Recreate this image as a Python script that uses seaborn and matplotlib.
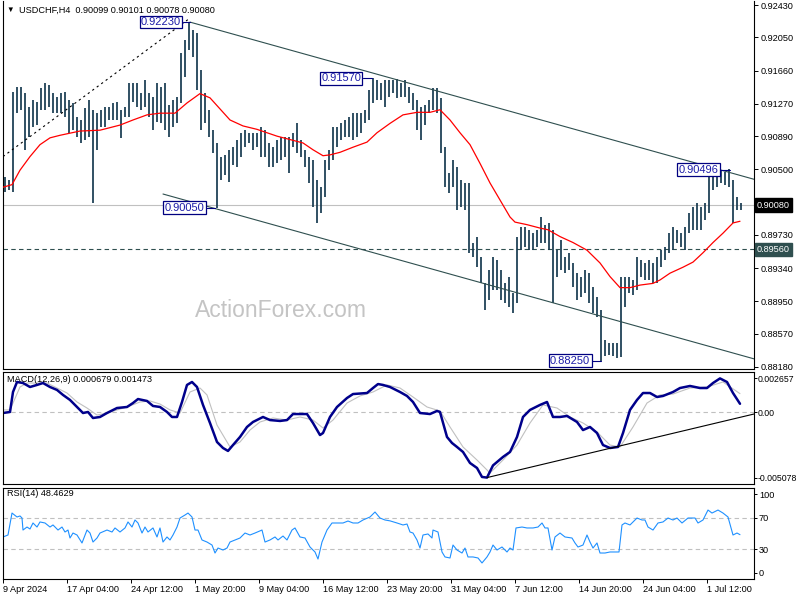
import matplotlib
matplotlib.use("Agg")
import numpy as np
import matplotlib.pyplot as plt
import seaborn as sns

# ---- price bars (USDCHF H4, two real bars per drawn bar) ----
highs = [
    0.9041, 0.9038, 0.9141, 0.9147, 0.9147, 0.9140, 0.9123, 0.9132, 0.9129, 0.9146,
    0.9152, 0.9149, 0.9140, 0.9135, 0.9140, 0.9141, 0.9132, 0.9128, 0.9112, 0.9108,
    0.9122, 0.9132, 0.9120, 0.9116, 0.9120, 0.9123, 0.9123, 0.9128, 0.9129, 0.9120,
    0.9123, 0.9152, 0.9152, 0.9152, 0.9140, 0.9155, 0.9140, 0.9135, 0.9152, 0.9147,
    0.9152, 0.9126, 0.9132, 0.9135, 0.9187, 0.9202, 0.9223, 0.9214, 0.9210, 0.9167,
    0.9140, 0.9120, 0.9096, 0.9081, 0.9065, 0.9067, 0.9073, 0.9076, 0.9085, 0.9093,
    0.9096, 0.9093, 0.9093, 0.9093, 0.9100, 0.9096, 0.9081, 0.9076, 0.9085, 0.9088,
    0.9088, 0.9088, 0.9093, 0.9104, 0.9085, 0.9073, 0.9065, 0.9061, 0.9038, 0.9029,
    0.9061, 0.9073, 0.9100, 0.9100, 0.9104, 0.9108, 0.9112, 0.9116, 0.9116, 0.9116,
    0.9120, 0.9143, 0.9157, 0.9155, 0.9152, 0.9155, 0.9155, 0.9155, 0.9156, 0.9152,
    0.9155, 0.9147, 0.9140, 0.9132, 0.9123, 0.9126, 0.9132, 0.9146, 0.9146, 0.9134,
    0.9076, 0.9046, 0.9061, 0.9053, 0.9038, 0.9034, 0.9034, 0.8964, 0.8971, 0.8947,
    0.8916, 0.8932, 0.8947, 0.8944, 0.8932, 0.8916, 0.8924, 0.8905, 0.8971, 0.8982,
    0.8982, 0.8979, 0.8975, 0.8979, 0.8994, 0.8985, 0.8987, 0.8979, 0.8955, 0.8967,
    0.8947, 0.8952, 0.8940, 0.8928, 0.8924, 0.8932, 0.8928, 0.8912, 0.8900, 0.8885,
    0.8850, 0.8846, 0.8846, 0.8846, 0.8924, 0.8924, 0.8924, 0.8920, 0.8947, 0.8944,
    0.8940, 0.8944, 0.8940, 0.8947, 0.8955, 0.8959, 0.8975, 0.8982, 0.8979, 0.8975,
    0.8982, 0.8999, 0.9006, 0.9010, 0.9006, 0.9010, 0.9046, 0.9046, 0.9049, 0.9049,
    0.9047, 0.9050, 0.9038, 0.9018, 0.9010]
lows = [
    0.9023, 0.9026, 0.9023, 0.9116, 0.9120, 0.9073, 0.9088, 0.9100, 0.9102, 0.9120,
    0.9120, 0.9123, 0.9116, 0.9116, 0.9116, 0.9112, 0.9093, 0.9096, 0.9088, 0.9081,
    0.9085, 0.9088, 0.9010, 0.9073, 0.9100, 0.9100, 0.9108, 0.9108, 0.9108, 0.9087,
    0.9112, 0.9112, 0.9129, 0.9123, 0.9120, 0.9123, 0.9112, 0.9096, 0.9106, 0.9104,
    0.9096, 0.9088, 0.9100, 0.9104, 0.9128, 0.9159, 0.9190, 0.9182, 0.9143, 0.9096,
    0.9104, 0.9088, 0.9069, 0.9005, 0.9038, 0.9043, 0.9035, 0.9055, 0.9053, 0.9065,
    0.9076, 0.9081, 0.9073, 0.9076, 0.9065, 0.9065, 0.9053, 0.9053, 0.9058, 0.9061,
    0.9065, 0.9046, 0.9076, 0.9069, 0.9065, 0.9053, 0.9034, 0.9006, 0.8987, 0.8999,
    0.9018, 0.9049, 0.9061, 0.9076, 0.9085, 0.9088, 0.9088, 0.9085, 0.9088, 0.9093,
    0.9104, 0.9108, 0.9128, 0.9132, 0.9132, 0.9123, 0.9135, 0.9140, 0.9134, 0.9135,
    0.9135, 0.9128, 0.9120, 0.9096, 0.9085, 0.9102, 0.9116, 0.9120, 0.9116, 0.9069,
    0.9029, 0.9022, 0.9029, 0.9002, 0.9006, 0.9002, 0.8952, 0.8947, 0.8935, 0.8916,
    0.8885, 0.8897, 0.8908, 0.8908, 0.8897, 0.8893, 0.8888, 0.8881, 0.8893, 0.8955,
    0.8959, 0.8955, 0.8955, 0.8959, 0.8964, 0.8964, 0.8955, 0.8893, 0.8924, 0.8932,
    0.8928, 0.8932, 0.8912, 0.8897, 0.8900, 0.8905, 0.8893, 0.8881, 0.8877, 0.8825,
    0.8831, 0.8832, 0.8831, 0.8828, 0.8830, 0.8888, 0.8905, 0.8902, 0.8908, 0.8924,
    0.8920, 0.8920, 0.8916, 0.8916, 0.8935, 0.8944, 0.8952, 0.8955, 0.8964, 0.8959,
    0.8955, 0.8975, 0.8979, 0.8979, 0.8979, 0.8990, 0.8999, 0.9026, 0.9029, 0.9034,
    0.9032, 0.9029, 0.8987, 0.9002, 0.9002]

# ---- moving average (red) ----
ma_x = [-0.5, 1.75, 3.75, 6.25, 8.75, 11.25, 13.75, 18.75, 23.75, 28.75, 32, 35.5, 38.75,
        42.5, 45.5, 48.75, 51.25, 53.75, 56.25, 59.5, 63, 68, 71.25, 74.5, 77, 79.5, 81.25,
        83.75, 87, 90.5, 93, 96.25, 99.5, 103, 106.25, 108.75, 111.25, 113.75, 116.25,
        118.75, 121.25, 123.75, 126.25, 127.5, 130.5, 133.75, 135.75, 138.75, 142, 145.5,
        148.75, 151.25, 153.75, 156.25, 158.75, 162, 163.75, 166.25, 169.5, 172, 174.5,
        177, 179.5, 182, 183.75]
ma_vals = [0.9029, 0.9032, 0.9049, 0.9065, 0.9079, 0.9087, 0.9090, 0.9095, 0.9096, 0.9102,
           0.9108, 0.9114, 0.9116, 0.9116, 0.9128, 0.9139, 0.9134, 0.9121, 0.9108, 0.9101,
           0.9097, 0.9089, 0.9085, 0.9081, 0.9073, 0.9066, 0.9067, 0.9070, 0.9076, 0.9082,
           0.9093, 0.9104, 0.9114, 0.9117, 0.9117, 0.9120, 0.9108, 0.9093, 0.9079, 0.9057,
           0.9034, 0.9014, 0.8994, 0.8988, 0.8985, 0.8981, 0.8979, 0.8971, 0.8964, 0.8955,
           0.8940, 0.8924, 0.8911, 0.8911, 0.8914, 0.8916, 0.8920, 0.8928, 0.8935, 0.8941,
           0.8952, 0.8964, 0.8975, 0.8987, 0.8989]

# ---- MACD(12,26,9) ----
macd_x = [-0.5, 1.25, 2, 3, 4.5, 6.25, 8, 9.5, 11.25, 13, 14.5, 16.25, 18, 19.5, 20.75, 22,
          23.75, 25.5, 28, 30.5, 32, 33.25, 35.5, 37, 38.75, 40.5, 41.75, 43, 44.25, 45.5,
          46.75, 48, 49.5, 51.25, 53, 54.5, 55.75, 57, 58.75, 60.5, 62, 64.5, 66.25, 68.75,
          70.5, 72, 73.75, 75.5, 77, 78.75, 79.5, 81.25, 83, 85.5, 87, 90.5, 92, 93.25, 94.5,
          96.25, 98.75, 100.5, 102, 103.75, 106.25, 108, 108.75, 110.5, 111.75, 113, 114.5,
          116.25, 118, 119.25, 120.5, 122, 124.5, 126.25, 128, 129.5, 131.25, 133.75, 135.5,
          137, 138.75, 140.5, 143, 144.5, 146.25, 148, 149.5, 151.25, 153.25, 154.5, 156.25,
          158, 159.5, 161.25, 163, 164.5, 167, 168.75, 171.25, 173.75, 175.5, 177, 178.75,
          180.5, 182, 183.75]
macd_vals = [-0.00004, 0.00004, 0.0016, 0.00238, 0.0023, 0.00199, 0.00215, 0.0023, 0.00199, 0.00176,
             0.00137, 0.00098, 0.00043, -0.00004, 0.00004, -0.00043, -0.00035, -0.00004, 0.00035, 0.00043,
             0.00074, 0.00105, 0.0009, 0.00051, 0.00043, 0.00004, -0.00035, -0.00035, 0.00082, 0.00215,
             0.00238, 0.00199, 0.00059, -0.00082, -0.0023, -0.00277, -0.003, -0.00254, -0.00191, -0.00113,
             -0.00074, -0.00035, -0.00059, -0.00066, -0.00059, -0.00012, -0.00012, -0.00012, -0.00082, -0.00176,
             -0.0016, -0.00035, 0.00043, 0.00113, 0.00144, 0.00152, 0.00191, 0.00222, 0.00215, 0.00199,
             0.0016, 0.00129, 0.00082, -0.00004, -0.00012, 0.00012, 0.00004, -0.00191, -0.00238, -0.00269,
             -0.00308, -0.00394, -0.00433, -0.00503, -0.00508, -0.00413, -0.00347, -0.00308, -0.00191, -0.00035,
             0.0002, 0.00059, 0.00082, -0.00035, -0.00035, -0.00027, -0.00074, -0.00137, -0.00113, -0.0016,
             -0.00254, -0.00277, -0.00269, -0.0016, 0.0002, 0.00098, 0.00152, 0.00152, 0.00121, 0.00129,
             0.0016, 0.00191, 0.00207, 0.00191, 0.00191, 0.0023, 0.00266, 0.00238, 0.00152, 0.00068]
sig_x = [-0.5, 1.25, 3.75, 5.5, 8, 10.5, 13, 15.5, 18, 20.5, 23, 25.5, 28, 30.5, 33.75, 36.25,
         38.75, 41.25, 43.75, 46.25, 48.75, 50.5, 53, 56.25, 58.75, 61.25, 63.75, 67, 70.5,
         73.75, 77, 79.5, 82, 85.5, 88.75, 92, 95.5, 98.75, 102, 105.5, 108.75, 111.25, 114.5,
         118, 121.25, 124.5, 128, 131.25, 134.5, 138, 141.25, 144.5, 148, 151.25, 153.75, 157,
         160.5, 163.75, 167, 171.25, 175.5, 179.5, 183.75]
sig_vals = [0.0002, 0.0002, 0.00199, 0.0023, 0.0023, 0.0023, 0.00191, 0.00152, 0.00082, 0.00035,
            -0.0002, -0.00004, 0.0002, 0.00043, 0.00082, 0.0009, 0.00066, 0.0002, -0.00004, 0.0016,
            0.00191, 0.00137, -0.00098, -0.00269, -0.0023, -0.00137, -0.00074, -0.00043, -0.00059, -0.00035,
            -0.00059, -0.00121, -0.00059, 0.00074, 0.00129, 0.0016, 0.00215, 0.00191, 0.00121, 0.00043,
            0.00012, -0.00113, -0.00269, -0.00371, -0.00472, -0.00371, -0.00254, -0.00082, 0.00059, 0.00035,
            -0.00035, -0.00082, -0.00152, -0.00254, -0.00269, -0.00113, 0.00074, 0.00137, 0.00144, 0.00191,
            0.00199, 0.00238, 0.00147]

# ---- RSI(14) ----
rsi_x = [-0.5, 0.75, 1.75, 3, 3.75, 4.25, 4.5, 5.5, 6.25, 7, 8, 8.75, 10, 11.25, 12, 13.25,
         14.25, 15, 15.75, 16.25, 17, 18, 19.25, 20.5, 21.25, 22, 23, 23.75, 25.5, 26.75, 27.5,
         28.75, 30, 30.75, 31.75, 32.5, 33.25, 34.25, 35, 35.75, 37, 38, 38.75, 39.5, 40.5,
         41.25, 42, 43, 43.75, 45, 45.75, 46.75, 47.5, 48.25, 49.25, 50.5, 51.75, 52.5, 53.25,
         54.5, 55.5, 56.25, 57.5, 58.75, 60, 61.25, 62.5, 64.25, 65, 66.25, 67.5, 68.25, 69.5,
         70.5, 71.75, 72.5, 73.75, 75, 76.25, 77.5, 78.25, 79.25, 80.5, 81.75, 83, 84.5, 85.75,
         87, 88.25, 89.5, 91.25, 92.5, 93.75, 95, 96.25, 98, 99.5, 100.5, 101.25, 102, 103,
         103.75, 104.5, 105.75, 106.75, 107, 108.25, 109.25, 110, 111.25, 112, 113, 114.25, 115,
         115.75, 117, 118.25, 119.25, 120.5, 121.25, 122, 123, 124.25, 125.5, 126.25, 127,
         127.75, 129.25, 130.5, 132, 133.25, 134.25, 135, 135.75, 136.75, 137.5, 138.75, 140,
         141.75, 142.5, 143.25, 144.5, 145.5, 146.25, 147, 148, 148.75, 150, 151.25, 152.5,
         153.5, 154.25, 155, 156.25, 158, 159.25, 160, 160.75, 162, 163.25, 164.5, 165.75, 167,
         168, 169.25, 170.75, 172.5, 173.25, 174.5, 175.75, 176.75, 178.25, 179.5, 180.75, 182,
         183, 183.75]
rsi_vals = [45.6, 48.1, 75.9, 70.9, 72.2, 69.6, 54.4, 58.2, 55.7, 63.3,
            58.2, 64.6, 63.3, 58.2, 60.8, 54.4, 58.2, 51.9, 54.4, 44.3,
            50.6, 48.1, 38.0, 54.4, 50.6, 39.2, 44.3, 50.6, 54.4, 51.9,
            57.0, 51.9, 57.0, 64.6, 58.2, 67.1, 63.3, 50.6, 58.2, 51.9,
            57.0, 45.6, 57.0, 39.2, 45.6, 41.8, 48.1, 58.2, 69.6, 73.4,
            75.9, 70.9, 54.4, 54.4, 41.8, 39.2, 35.4, 25.3, 31.6, 29.1,
            31.6, 39.2, 41.8, 44.3, 50.6, 48.1, 50.6, 54.4, 39.2, 41.8,
            45.6, 41.8, 46.8, 41.8, 54.4, 57.0, 45.6, 44.3, 32.9, 26.6,
            17.7, 39.2, 54.4, 63.3, 63.3, 63.3, 65.8, 63.3, 63.3, 67.1,
            70.9, 77.2, 69.6, 67.1, 66.0, 63.3, 60.8, 62.0, 51.9, 50.6,
            41.8, 31.6, 48.1, 49.4, 44.3, 54.4, 51.9, 26.6, 20.3, 19.0,
            35.4, 29.1, 25.3, 31.6, 20.3, 20.3, 19.0, 12.7, 20.3, 26.6,
            35.4, 29.1, 32.9, 26.6, 31.6, 29.1, 57.0, 58.2, 57.0, 57.0,
            58.2, 63.3, 57.0, 57.0, 29.1, 45.6, 50.6, 45.6, 44.3, 38.0,
            32.9, 35.4, 48.1, 39.2, 31.6, 38.0, 25.3, 25.3, 26.6, 26.6,
            26.6, 60.8, 63.3, 60.8, 69.6, 67.1, 67.1, 58.2, 54.4, 63.3,
            64.6, 69.6, 67.1, 69.6, 63.3, 69.6, 69.6, 63.3, 67.1, 79.7,
            75.9, 79.7, 75.9, 70.9, 48.1, 50.6, 48.5]

# ---- drawn objects: trend lines and levels ----
upper_x, upper_y = [46.25, 187.5], [0.9223, 0.9038]
lower_x, lower_y = [39.5, 187.5], [0.9021, 0.8827]
dotted_x, dotted_y = [-0.5, 45.75], [0.9065, 0.9226]
macd_tl_x, macd_tl_y = [120.5, 187.5], [-0.00508, -0.0001]
support_level = 0.8956
last_price = 0.9008

# swing labels: (text, price, box right edge, bar reached)
swings = [("0.92230", 0.92230, 44.0, 46.3),
          ("0.91570", 0.91570, 89.0, 91.75),
          ("0.90050", 0.90050, 49.8, 52.5),
          ("0.90496", 0.90496, 178.3, 181.25),
          ("0.88250", 0.88250, 146.3, 149.0)]

price_ticks = [0.92430, 0.92050, 0.91660, 0.91270, 0.90890, 0.90500,
               0.89730, 0.89340, 0.88950, 0.88570, 0.88180]
macd_ticks = [-0.005078, 0.0, 0.002657]
macd_tick_labels = ["-0.005078", "0.00", "0.002657"]
rsi_ticks = [0, 30, 70, 100]
date_pos = [-0.5, 15.5, 31.5, 47.5, 63.5, 79.5, 95.5, 111.5, 127.5, 143.5, 159.5, 175.5]
date_labels = ["9 Apr 2024", "17 Apr 04:00", "24 Apr 12:00", "1 May 20:00", "9 May 04:00",
               "16 May 12:00", "23 May 20:00", "31 May 04:00", "7 Jun 12:00",
               "14 Jun 20:00", "24 Jun 04:00", "1 Jul 12:00"]

# ---- style ----
sns.set_style("white")
plt.rcParams['font.family'] = ['Liberation Sans', 'DejaVu Sans']
FS = 6.6
BAR_C = "#173a50"
LINE_C = "#2f4f4f"
NAVY = "#000080"

fig = plt.figure(figsize=(8, 6), dpi=100)
L, W = 3 / 800, 751 / 800
ax_p = fig.add_axes([L, 1 - 369 / 600, W, 368 / 600])
ax_m = fig.add_axes([L, 1 - 484 / 600, W, 112 / 600])
ax_r = fig.add_axes([L, 1 - 579 / 600, W, 91 / 600])

for ax in (ax_p, ax_m, ax_r):
    ax.set_xlim(-0.5, 187.25)
    for s in ax.spines.values():
        s.set_color("black")
        s.set_linewidth(0.8)
    ax.yaxis.tick_right()
    ax.tick_params(axis="y", which="both", left=False, right=True, labelleft=False,
                   labelright=True, length=3, width=0.7, pad=2, labelsize=FS, colors="black")
ax_m.tick_params(axis="y", length=2, pad=0.6, labelsize=6.3)
ax_r.tick_params(axis="y", length=2, pad=1.5)
ax_p.spines["top"].set_visible(False)
ax_p.set_xticks([])
ax_m.set_xticks([])

# ---- main price panel ----
ax_p.set_ylim(0.88154, 0.92478)
ax_p.axhline(last_price, color="#c0c0c0", lw=0.8, zorder=1)
ax_p.axhline(support_level, color=LINE_C, lw=0.8, ls=(0, (4, 3)), zorder=1)
bar_x = np.arange(len(highs))
ax_p.vlines(bar_x, lows, highs, color=BAR_C, lw=1.25, zorder=2)
ax_p.plot(upper_x, upper_y, color=LINE_C, lw=0.8, zorder=2.5)
ax_p.plot(lower_x, lower_y, color=LINE_C, lw=0.8, zorder=2.5)
ax_p.plot(dotted_x, dotted_y, color="black", lw=0.8, ls=(0, (2, 3)), zorder=2.5)
sns.lineplot(x=ma_x, y=ma_vals, ax=ax_p, color="red", lw=0.9, estimator=None, sort=False, zorder=3)

for txt, price, xr, xbar in swings:
    ax_p.plot([xr + 0.4, xbar], [price, price], color=NAVY, lw=0.8, zorder=4)
    ax_p.text(xr, price, txt, ha="right", va="center", fontsize=8, color="#1c1ca8", zorder=5,
              bbox=dict(boxstyle="square,pad=0.12", fc="white", ec=NAVY, lw=0.9))

ax_p.set_yticks(price_ticks)
ax_p.set_yticklabels([f"{v:.5f}" for v in price_ticks])
ytr = ax_p.get_yaxis_transform()
ax_p.text(1.004, last_price, "0.90080", transform=ytr, ha="left", va="center", fontsize=FS,
          color="white", bbox=dict(boxstyle="square,pad=0.25", fc="black", ec="black"), clip_on=False)
ax_p.text(1.004, support_level, "0.89560", transform=ytr, ha="left", va="center", fontsize=FS,
          color="white", bbox=dict(boxstyle="square,pad=0.25", fc=LINE_C, ec=LINE_C), clip_on=False)
ax_p.text(0.37, 0.16, "ActionForex.com", transform=ax_p.transAxes, ha="center", va="center",
          fontsize=16.5, color="#c4c4c4", zorder=0)

# ---- MACD panel ----
ax_m.set_ylim(-0.00558, 0.00316)
ax_m.axhline(0, color="#c0c0c0", lw=0.8, ls=(0, (4, 3)))
sns.lineplot(x=sig_x, y=sig_vals, ax=ax_m, color="#c0c0c0", lw=0.8, estimator=None, sort=False)
sns.lineplot(x=macd_x, y=macd_vals, ax=ax_m, color="#00008b", lw=1.8, estimator=None, sort=False)
ax_m.plot(macd_tl_x, macd_tl_y, color="black", lw=0.8)
ax_m.set_yticks(macd_ticks)
ax_m.set_yticklabels(macd_tick_labels)

# ---- RSI panel ----
ax_r.set_ylim(-7.6, 107.6)
ax_r.axhline(70, color="#c0c0c0", lw=0.8, ls=(0, (4, 3)))
ax_r.axhline(30, color="#c0c0c0", lw=0.8, ls=(0, (4, 3)))
sns.lineplot(x=rsi_x, y=rsi_vals, ax=ax_r, color="#1e90ff", lw=0.8, estimator=None, sort=False)
ax_r.set_yticks(rsi_ticks)
ax_r.set_yticklabels([str(v) for v in rsi_ticks])
ax_r.set_xticks(date_pos)
ax_r.set_xticklabels(date_labels)
ax_r.tick_params(axis="x", bottom=True, direction="out", length=3, width=0.7, pad=1.5,
                 labelsize=FS, colors="black")
for lbl in ax_r.get_xticklabels():
    lbl.set_horizontalalignment("left")
for ax in (ax_p, ax_m, ax_r):
    ax.set_xlabel("")
    ax.set_ylabel("")

# ---- header texts ----
fig.text(6 / 800, 1 - 10 / 600, "\u25bc", fontsize=5.5, va="center", ha="left", color="black")
fig.text(19 / 800, 1 - 10 / 600, "USDCHF,H4  0.90099 0.90101 0.90078 0.90080",
         fontsize=FS, va="center", ha="left", color="black")
fig.text(7 / 800, 1 - 380 / 600, "MACD(12,26,9) 0.000679 0.001473",
         fontsize=FS, va="center", ha="left", color="black")
fig.text(7 / 800, 1 - 494 / 600, "RSI(14) 48.4629",
         fontsize=FS, va="center", ha="left", color="black")

fig.savefig("out.png", dpi=100)
